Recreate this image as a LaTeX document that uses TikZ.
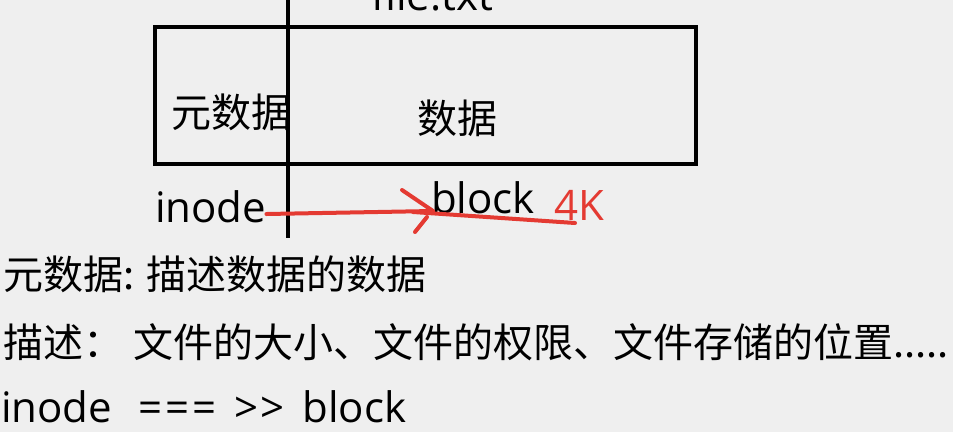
\documentclass[tikz,border=0pt]{standalone}
\usepackage{fontspec}
\setmainfont{Open Sans}
\newfontfamily\cjk{Noto Sans CJK SC}
\definecolor{bg}{RGB}{239,239,239}
\definecolor{pen}{RGB}{228,58,50}
\begin{document}
\begin{tikzpicture}[x=1pt,y=-1pt,
  txt/.style={inner sep=0pt, font=\fontsize{42}{50}\selectfont, anchor=base west},
  cjktxt/.style={txt, font=\fontsize{40}{48}\selectfont\cjk},
  frame/.style={draw=black, line width=4.5pt},
  redpen/.style={draw=pen, line width=4pt, line cap=round}]
\fill[bg] (0,0) rectangle (953,432);
\useasboundingbox (0,0) rectangle (953,432);
\begin{scope}
\clip (0,0) rectangle (953,432);
\node[txt] (file) at (371,10) {file.txt};
\end{scope}
\draw[frame] (155,27) rectangle (696,164);
\coordinate (vtop) at (288,0);
\coordinate (vbot) at (288,238);
\draw[frame] (vtop) -- (vbot);
\node[cjktxt, anchor=center] (meta) at (231,112) {元数据};
\node[cjktxt, anchor=center] (data) at (457,118) {数据};
\node[txt] (inode) at (155,222) {inode};
\node[txt] (block) at (431,213) {block};
\node[txt, text=pen] (fourk) at (554,220) {4K};
\coordinate (tip) at ([xshift=2pt,yshift=2pt]block.base west);
\draw[redpen] ([yshift=8pt]inode.base east) -- (tip);
\coordinate (h1) at (402,190);
\coordinate (h2a) at (427,217);
\coordinate (h2b) at (415,232);
\draw[redpen] (h1) -- (tip);
\draw[redpen] (h2a) -- (h2b);
\draw[redpen] ([xshift=-18pt,yshift=1pt]block.base west) -- ([xshift=21pt,yshift=-3pt]fourk.base west);
\node[cjktxt] (l1) at (3,289) {元数据: 描述数据的数据};
\node[cjktxt] (l2) at (3,357) {描述：\hspace{10pt}文件的大小、文件的权限、文件存储的位置.....};
\node[txt] (l3) at (1,422) {inode\hspace{26pt}=\kern3pt=\kern3pt=\hspace{18pt}>\kern2pt>\hspace{18pt}block};
\end{tikzpicture}
\end{document}
